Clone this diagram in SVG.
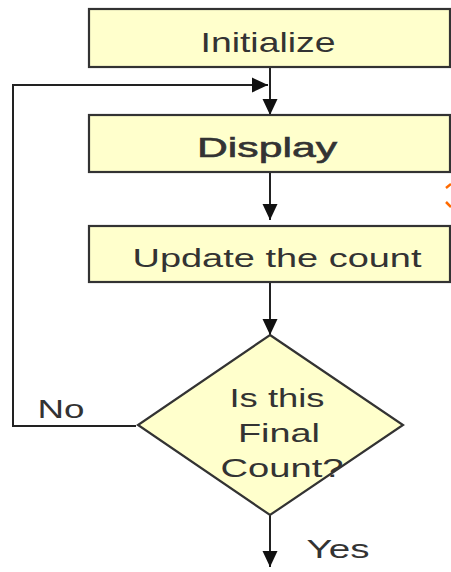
<svg xmlns="http://www.w3.org/2000/svg" width="451" height="572" viewBox="0 0 451 572">
<style>
.box{fill:#FFFFCC;stroke:#333;stroke-width:2.2}
.lbl{font-family:"Liberation Sans",Arial,sans-serif;fill:#333;text-anchor:middle}
.ln{fill:none;stroke:#222;stroke-width:2}
</style>
<defs>
<marker id="ah" markerUnits="userSpaceOnUse" markerWidth="18" markerHeight="18" refX="16" refY="8" orient="auto">
<path d="M0,0.5 L16,8 L0,15.5 Z" fill="#111"/>
</marker>
</defs>
<rect width="451" height="572" fill="#fff"/>
<g id="connectors">
<line class="ln" x1="270" y1="67" x2="270" y2="115" marker-end="url(#ah)"/>
<line class="ln" x1="270" y1="172" x2="270" y2="220" marker-end="url(#ah)"/>
<line class="ln" x1="270" y1="282" x2="270" y2="335" marker-end="url(#ah)"/>
<line class="ln" x1="270" y1="515" x2="270" y2="567" marker-end="url(#ah)"/>
<polyline class="ln" points="136,426 13,426 13,85 268,85" marker-end="url(#ah)"/>
</g>
<g id="initialize">
<rect class="box" x="89" y="9" width="361" height="58"/>
<text class="lbl" x="268" y="52" font-size="28" textLength="135" lengthAdjust="spacingAndGlyphs">Initialize</text>
</g>
<g id="display">
<rect class="box" x="89" y="115" width="361" height="57"/>
<text class="lbl" x="267" y="157" font-size="28" textLength="140" lengthAdjust="spacingAndGlyphs" stroke="#333" stroke-width="0.6">Display</text>
</g>
<g id="update">
<rect class="box" x="89" y="226" width="361" height="56"/>
<text class="lbl" x="277" y="267" font-size="26" textLength="289" lengthAdjust="spacingAndGlyphs">Update the count</text>
</g>
<g id="decision">
<polygon class="box" points="270,335 403,425 270,515 138,425"/>
<text class="lbl" x="277" y="407" font-size="25" textLength="95" lengthAdjust="spacingAndGlyphs">Is this</text>
<text class="lbl" x="279" y="442" font-size="25" textLength="82" lengthAdjust="spacingAndGlyphs">Final</text>
<text class="lbl" x="282" y="477" font-size="25" textLength="123" lengthAdjust="spacingAndGlyphs">Count?</text>
</g>
<g id="labels">
<text class="lbl" x="61" y="418" font-size="26" textLength="47" lengthAdjust="spacingAndGlyphs">No</text>
<text class="lbl" x="338" y="558" font-size="25" textLength="63" lengthAdjust="spacingAndGlyphs">Yes</text>
</g>
<g id="edge-mark">
<path d="M446,188 L451,184 M446,202 L451,207" stroke="#FF6A00" stroke-width="2.5" fill="none"/>
</g>
</svg>
